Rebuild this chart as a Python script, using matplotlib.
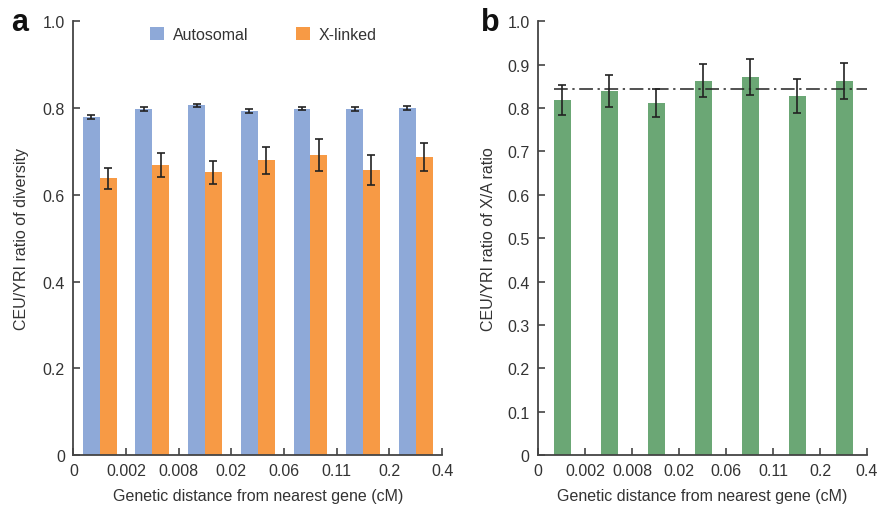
import matplotlib
matplotlib.use("Agg")
import matplotlib.pyplot as plt
import numpy as np

# bins de distancia genetica (limites de los bins)
bin_edges = ['0', '0.002', '0.008', '0.02', '0.06', '0.11', '0.2', '0.4']

# panel a: razon CEU/YRI de diversidad
auto_vals = [0.779, 0.798, 0.806, 0.793, 0.799, 0.798, 0.800]
auto_err = [0.005, 0.004, 0.004, 0.004, 0.004, 0.004, 0.004]
xlink_vals = [0.638, 0.669, 0.652, 0.680, 0.692, 0.657, 0.687]
xlink_err = [0.024, 0.028, 0.026, 0.031, 0.036, 0.034, 0.032]

# panel b: razon CEU/YRI del cociente X/A
xa_vals = [0.819, 0.840, 0.812, 0.863, 0.872, 0.828, 0.863]
xa_err = [0.034, 0.037, 0.033, 0.038, 0.042, 0.040, 0.042]
xa_ref = 0.845

c_auto = '#8EA9D8'
c_xlink = '#F79A45'
c_green = '#6BA775'
c_text = '#333333'
c_axis = '#444444'

plt.rcParams['font.family'] = ['Liberation Sans', 'DejaVu Sans']
plt.rcParams['font.size'] = 11.5
plt.rcParams['text.color'] = c_text
plt.rcParams['axes.labelcolor'] = c_text
plt.rcParams['xtick.color'] = c_axis
plt.rcParams['ytick.color'] = c_axis
plt.rcParams['xtick.labelcolor'] = c_text
plt.rcParams['ytick.labelcolor'] = c_text

fig = plt.figure(figsize=(8.78, 5.06), dpi=100)
ax1 = fig.add_axes([0.0835, 0.0988, 0.420, 0.857])
ax2 = fig.add_axes([0.6128, 0.0988, 0.3747, 0.857])

n = len(auto_vals)
idx = np.arange(n)
err_kw = dict(ecolor='#222222', elinewidth=1.2, capsize=3, capthick=1.2)

ax1.bar(idx + 0.34, auto_vals, width=0.32, color=c_auto, yerr=auto_err,
        error_kw=err_kw, label='Autosomal')
ax1.bar(idx + 0.66, xlink_vals, width=0.32, color=c_xlink, yerr=xlink_err,
        error_kw=err_kw, label='X-linked')
ax1.set_ylim(0, 1.0)
ax1.set_yticks(np.arange(0, 1.01, 0.2))
ax1.set_yticklabels(['0', '0.2', '0.4', '0.6', '0.8', '1.0'])
ax1.set_ylabel('CEU/YRI ratio of diversity', labelpad=10)
ax1.legend(loc='upper center', bbox_to_anchor=(0.515, 1.02), ncol=2, frameon=False,
           handlelength=0.85, handleheight=0.85, handletextpad=0.55, columnspacing=3.0,
           fontsize=11.5)

ax2.bar(idx + 0.52, xa_vals, width=0.36, color=c_green, yerr=xa_err, error_kw=err_kw)
ax2.axhline(xa_ref, xmin=0.34 / n, xmax=1.0, color='#222222', lw=1.1,
            linestyle=(0, (9, 3, 1.5, 3)))
ax2.set_ylim(0, 1.0)
ax2.set_yticks(np.arange(0, 1.01, 0.1))
ax2.set_yticklabels(['0'] + ['%.1f' % v for v in np.arange(0.1, 1.01, 0.1)])
ax2.set_ylabel('CEU/YRI ratio of X/A ratio', labelpad=8)

for ax in (ax1, ax2):
    ax.set_xlim(0, n)
    ax.set_xticks(np.arange(n + 1))
    ax.set_xticklabels(bin_edges)
    ax.set_xlabel('Genetic distance from nearest gene (cM)', labelpad=7)
    ax.spines['top'].set_visible(False)
    ax.spines['right'].set_visible(False)
    for s in ('left', 'bottom'):
        ax.spines[s].set_color(c_axis)
        ax.spines[s].set_linewidth(1.3)
    ax.tick_params(direction='in', length=5, width=1.2, pad=6)

fig.text(0.013, 0.955, 'a', fontsize=22, fontweight='bold', color='#111111', va='center')
fig.text(0.548, 0.955, 'b', fontsize=22, fontweight='bold', color='#111111', va='center')

fig.savefig('out.png', dpi=100)
